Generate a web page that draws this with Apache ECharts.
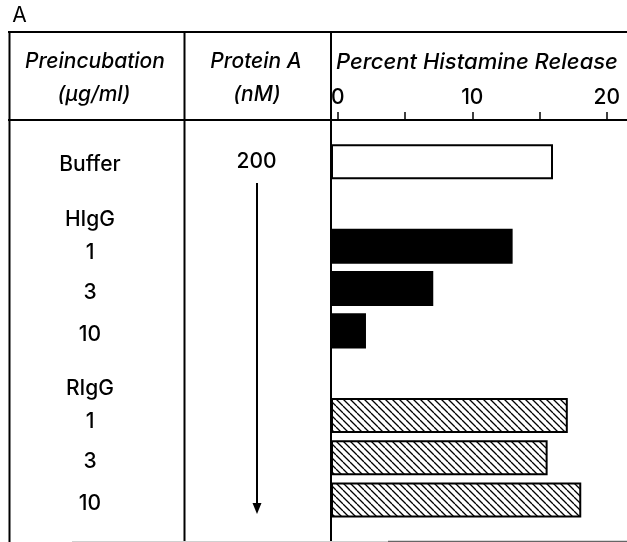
<!DOCTYPE html>
<html><head><meta charset="utf-8">
<script src="https://cdn.jsdelivr.net/npm/echarts@6/dist/echarts.min.js"></script>
<style>html,body{margin:0;padding:0;background:#fff}#c{width:627px;height:542px}</style>
</head><body><div id="c"></div>
<script>
// ---- data ----
const categories = ['Buffer', 'HIgG', 'HIgG 1', 'HIgG 3', 'HIgG 10', 'RIgG', 'RIgG 1', 'RIgG 3', 'RIgG 10'];
const rowLabels = ['Buffer', 'HIgG', '1', '3', '10', 'RIgG', '1', '3', '10'];
const proteinA = ['200', '', '', '', '', '', '', '', ''];
const bufferRelease = [16.0, null, null, null, null, null, null, null, null];
const higgRelease = [null, null, 13.0, 7.1, 2.1, null, null, null, null];
const riggRelease = [null, null, null, null, null, null, 17.1, 15.6, 18.1];
const tickValues = [0, 5, 10, 15, 20];
const tickLabels = [0, 10, 20];

// ---- styling ----
const FONT = 'Inter, "Liberation Sans", Arial, sans-serif';
const X_MIN = -0.5, X_MAX = 21.5;

function hatchPattern() {
  const s = 7;
  const cv = document.createElement('canvas');
  cv.width = s; cv.height = s;
  const ctx = cv.getContext('2d');
  ctx.fillStyle = '#fff';
  ctx.fillRect(0, 0, s, s);
  ctx.strokeStyle = '#000';
  ctx.lineWidth = 1.3;
  ctx.beginPath();
  for (const k of [-s, 0, s]) { ctx.moveTo(k, 0); ctx.lineTo(k + s, s); }
  ctx.stroke();
  return { image: cv, repeat: 'repeat' };
}

function barSeries(name, values, fill, stroke) {
  return {
    type: 'custom', name, xAxisIndex: 0, yAxisIndex: 0,
    encode: { x: 0, y: 1 },
    data: values.map((v, i) => v == null ? null : [v, i]).filter(Boolean),
    renderItem: (params, api) => {
      const v = api.value(0), c = api.value(1);
      const a = api.coord([X_MIN, c]), b = api.coord([v, c]);
      const h = api.size([0, 1])[1] * 0.83;
      const lw = stroke ? 2 : 0;
      return {
        type: 'rect',
        shape: { x: a[0] + lw / 2, y: a[1] - h / 2 + lw / 2, width: b[0] - a[0] - lw, height: h - lw },
        style: { fill: fill, stroke: stroke || null, lineWidth: lw }
      };
    }
  };
}

function rowKind(i) {
  const l = rowLabels[i];
  if (i === 0) return 'b';
  if (isNaN(Number(l))) return 'g';
  if (i > 0 && isNaN(Number(rowLabels[i - 1]))) return 'f';
  return 'n';
}

const txt = { fontSize: 21, fontWeight: 500, fontFamily: FONT, color: '#000' };
const chart = echarts.init(document.getElementById('c'), null, { renderer: 'canvas' });

function vline(x, y1, y2, w, color) {
  return { type: 'line', shape: { x1: x, y1: y1, x2: x, y2: y2 }, style: { stroke: color || '#000', lineWidth: w }, z: 10 };
}
function hline(y, x1, x2, w, color) {
  return { type: 'line', shape: { x1: x1, y1: y, x2: x2, y2: y }, style: { stroke: color || '#000', lineWidth: w }, z: 10 };
}
function label(text, x, y, opts) {
  return {
    type: 'text', z: 10,
    style: Object.assign({ text: text, x: x, y: y, align: 'center', verticalAlign: 'middle',
      fontSize: 21, fontWeight: 500, fontStyle: 'italic', fontFamily: FONT, fill: '#000' }, opts || {})
  };
}

chart.setOption({
  animation: false,
  backgroundColor: '#fff',
  grid: { left: 331, right: 0, top: 140.56, height: 380.6, containLabel: false },
  xAxis: {
    type: 'value', position: 'top', offset: 20.56, min: X_MIN, max: X_MAX,
    splitLine: { show: false },
    axisLine: { show: true, lineStyle: { color: '#000', width: 2 } },
    axisTick: { show: true, customValues: tickValues, length: 8, lineStyle: { color: '#000', width: 1.5 } },
    axisLabel: Object.assign({ customValues: tickLabels, margin: 12 }, txt)
  },
  yAxis: [
    {
      type: 'category', data: categories, inverse: true, position: 'left',
      axisLine: { show: false }, axisTick: { show: false }, splitLine: { show: false },
      axisLabel: {
        margin: 241, align: 'center',
        formatter: (v, i) => '{' + rowKind(i) + '|' + rowLabels[i] + '}',
        rich: {
          b: Object.assign({ padding: [5, 0, 0, 0] }, txt),
          g: Object.assign({ padding: [31, 0, 0, 0] }, txt),
          f: Object.assign({ padding: [13, 0, 0, 0] }, txt),
          n: Object.assign({ padding: [8, 0, 0, 0] }, txt)
        }
      }
    },
    {
      type: 'category', data: categories, inverse: true, position: 'left',
      axisLine: { show: false }, axisTick: { show: false }, splitLine: { show: false },
      axisLabel: Object.assign({ margin: 74.5, align: 'center', formatter: (v, i) => proteinA[i] }, txt)
    }
  ],
  series: [
    barSeries('Buffer', bufferRelease, '#fff', '#000'),
    barSeries('HIgG', higgRelease, '#000', null),
    barSeries('RIgG', riggRelease, hatchPattern(), '#000')
  ],
  graphic: {
    elements: [
      hline(32, 8, 627, 2),
      hline(120, 8, 332, 2),
      vline(9.5, 31, 542, 2),
      vline(184.5, 31, 542, 2),
      vline(331, 31, 542, 2),
      hline(541.5, 72, 388, 1, '#d0d0d0'),
      hline(541.5, 388, 627, 1.5, '#666'),
      // arrow in Protein A column
      vline(257, 183, 504, 2),
      { type: 'polygon', z: 10, shape: { points: [[252.5, 503], [261.5, 503], [257, 514]] }, style: { fill: '#000' } },
      label('A', 19.5, 16, { fontStyle: 'normal', fontWeight: 400, fontSize: 21 }),
      label('Preincubation', 95, 62),
      label('(\u00b5g/ml)', 94, 95),
      label('Protein A', 256, 62),
      label('(nM)', 257, 95),
      label('Percent Histamine Release', 336, 62, { align: 'left', fontSize: 22 })
    ]
  }
});
</script>
</body></html>
